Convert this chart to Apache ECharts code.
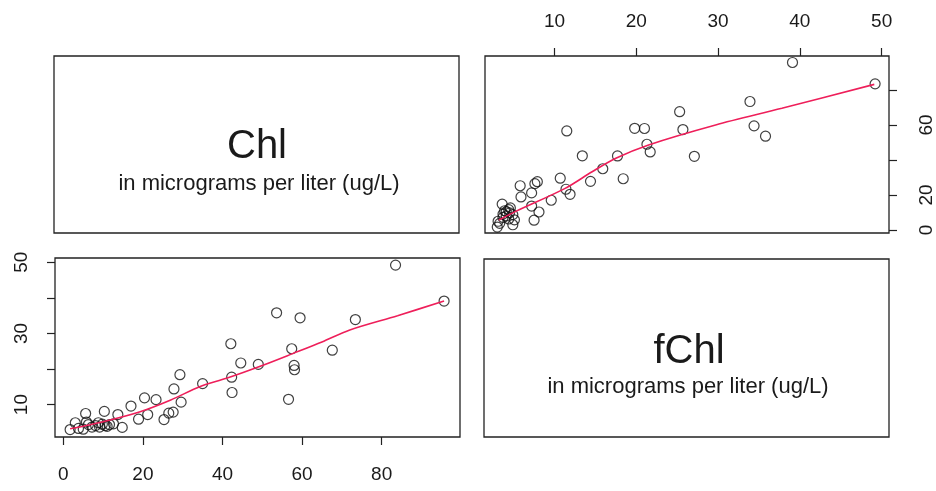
<!DOCTYPE html>
<html>
<head>
<meta charset="utf-8">
<script src="https://cdn.jsdelivr.net/npm/echarts@6/dist/echarts.min.js"></script>
<style>
html,body{margin:0;padding:0;background:#fff;}
#c{width:936px;height:491px;}
</style>
</head>
<body>
<div id="c"></div>
<script>
// Data: Chl and fChl (micrograms per liter)
const chl = [83.5,95.7,53.6,59.5,73.4,42.1,57.4,67.6,44.6,49.0,58.0,58.1,29.3,42.3,35.0,27.8,42.4,20.4,23.3,56.6,29.6,17.0,5.6,10.3,13.7,26.5,27.6,21.2,18.9,25.3,3.0,5.8,8.8,1.7,14.8,5.0,7.2,8.1,9.1,10.5,11.6,12.6,3.8,9.8,11.0,6.3];
const fchl = [49.2,39.1,35.8,34.4,33.9,27.1,25.7,25.3,21.7,21.3,21.0,19.8,18.4,17.7,15.9,14.4,13.4,11.9,11.4,11.5,10.7,9.6,7.5,8.1,7.2,7.6,7.9,7.2,5.9,5.8,4.9,5.1,4.9,3.0,3.6,3.1,3.7,4.1,3.7,4.1,4.4,4.6,3.3,4.5,3.9,4.4];

// Smooth lines
const blLineChl = [1.7,10,19.3,27,34.4,41,50,57.8,65,72,84,95.7];
const blLineF   = [3.2,5.2,8.0,11.3,15.1,17.4,21.0,24.4,27.6,31.0,35.0,39.1];
const trLineF   = [3.2,5.2,11.3,14.6,17.5,21.5,29.7,37.8,49.1];
const trLineChl = [5.7,10.5,23.8,33.3,41.0,48.6,60.0,69.5,83.2];

// Tick values
const trXTicks = [10,20,30,40,50];
const trYTicks = [0,20,40,60,80];
const trYLabels = [0,20,60];
const blXTicks = [0,20,40,60,80];
const blYTicks = [10,20,30,40,50];
const blYLabels = [10,30,50];

const FONT = 'Liberation Sans';
const TXT = '#1a1a1a';

const chart = echarts.init(document.getElementById('c'), null, {renderer:'canvas'});

function zip(a,b){ return a.map((v,i)=>[v,b[i]]); }

const gridBase = {show:true, borderColor:'#222', borderWidth:1.3, backgroundColor:'transparent'};
const lbl = (vals, rot, margin) => ({show:true, customValues: vals, rotate: rot||0, margin: margin, fontFamily:FONT, fontSize:19, color:TXT});
const tick = (vals) => ({show:true, customValues: vals, length:8, inside:false, lineStyle:{color:'#222', width:1.2}});
const hiddenAxis = (gi) => ({gridIndex:gi, type:'value', min:0, max:1, show:false});
const noLine = {show:false, onZero:false};

const option = {
  animation:false,
  backgroundColor:'#fff',
  grid:[
    Object.assign({left:54, top:56, width:405, height:177}, gridBase),
    Object.assign({left:485, top:56, width:404, height:177}, gridBase),
    Object.assign({left:55, top:258, width:405, height:179}, gridBase),
    Object.assign({left:484, top:259, width:405, height:178}, gridBase)
  ],
  xAxis:[
    hiddenAxis(0),
    {gridIndex:1, type:'value', position:'top', min:1.5, max:50.9,
     axisLine:noLine, splitLine:{show:false},
     axisTick:tick(trXTicks), axisLabel:lbl(trXTicks,0,25)},
    {gridIndex:2, type:'value', position:'bottom', min:-2.1, max:99.7,
     axisLine:noLine, splitLine:{show:false},
     axisTick:tick(blXTicks), axisLabel:lbl(blXTicks,0,28)},
    hiddenAxis(3)
  ],
  yAxis:[
    hiddenAxis(0),
    {gridIndex:1, type:'value', position:'right', min:-1.7, max:99.4,
     axisLine:noLine, splitLine:{show:false},
     axisTick:tick(trYTicks), axisLabel:lbl(trYLabels,90,28)},
    {gridIndex:2, type:'value', position:'left', min:0.9, max:51.2,
     axisLine:noLine, splitLine:{show:false},
     axisTick:tick(blYTicks), axisLabel:lbl(blYLabels,90,24)},
    hiddenAxis(3)
  ],
  series:[
    {type:'scatter', xAxisIndex:1, yAxisIndex:1, data:zip(fchl,chl),
     symbol:'circle', symbolSize:10,
     itemStyle:{color:'transparent', borderColor:'#111', borderWidth:1.2}},
    {type:'line', xAxisIndex:1, yAxisIndex:1, data:zip(trLineF,trLineChl),
     smooth:0.3, showSymbol:false, lineStyle:{color:'#ee1f5a', width:1.6}, z:3},
    {type:'scatter', xAxisIndex:2, yAxisIndex:2, data:zip(chl,fchl),
     symbol:'circle', symbolSize:10,
     itemStyle:{color:'transparent', borderColor:'#111', borderWidth:1.2}},
    {type:'line', xAxisIndex:2, yAxisIndex:2, data:zip(blLineChl,blLineF),
     smooth:0.3, showSymbol:false, lineStyle:{color:'#ee1f5a', width:1.6}, z:3}
  ],
  graphic:[
    {type:'text', x:257, y:147, style:{text:'Chl', font:'40px "'+FONT+'"', fill:TXT, textAlign:'center', textVerticalAlign:'middle'}},
    {type:'text', x:259, y:184, style:{text:'in micrograms per liter (ug/L)', font:'22px "'+FONT+'"', fill:TXT, textAlign:'center', textVerticalAlign:'middle'}},
    {type:'text', x:689, y:352, style:{text:'fChl', font:'40px "'+FONT+'"', fill:TXT, textAlign:'center', textVerticalAlign:'middle'}},
    {type:'text', x:688, y:387, style:{text:'in micrograms per liter (ug/L)', font:'22px "'+FONT+'"', fill:TXT, textAlign:'center', textVerticalAlign:'middle'}}
  ]
};
chart.setOption(option);
</script>
</body>
</html>
